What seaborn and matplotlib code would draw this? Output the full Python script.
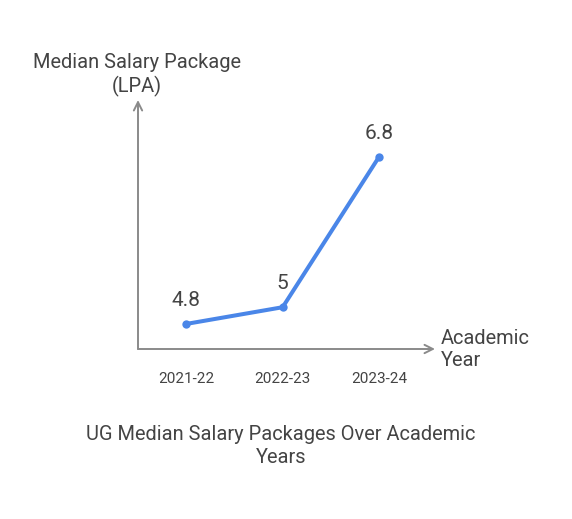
import matplotlib
matplotlib.use("Agg")
import matplotlib.pyplot as plt
import seaborn as sns
import pandas as pd

years = ["2021-22", "2022-23", "2023-24"]
salary = [4.8, 5, 6.8]
labels = ["4.8", "5", "6.8"]

sns.set_style("white")
plt.rcParams['font.family'] = ['Roboto', 'DejaVu Sans']

TXT = "#444444"
AX = "#8a8a8a"
LINE = "#4a86e8"

fig = plt.figure(figsize=(5.72, 5.19), dpi=100)
ax = fig.add_axes([138/572, 1-349/519, 297/572, 249/519])

df = pd.DataFrame({"x": range(len(years)), "y": salary})
sns.lineplot(data=df, x="x", y="y", ax=ax, color=LINE, linewidth=2.9,
             marker="o", markersize=6, markeredgewidth=0)

ax.set_xlim(-0.5, 2.58)
ax.set_ylim(4.5, 7.48)
for s in ax.spines.values():
    s.set_visible(False)
ax.set_yticks([])
ax.set_xticks(range(len(years)))
ax.set_xticklabels(years, fontsize=11, color=TXT)
ax.tick_params(axis="x", length=0, pad=16.5)
ax.set_xlabel("")
ax.set_ylabel("")

for i, (v, l) in enumerate(zip(salary, labels)):
    ax.annotate(l, (i, v), xytext=(0, 17), textcoords="offset points",
                ha="center", va="center", fontsize=15, color=TXT)

# axis arrows
ax.annotate("", xy=(1.0, 0), xytext=(0, 0), xycoords="axes fraction",
            arrowprops=dict(arrowstyle="->", color=AX, lw=1.4, shrinkA=0, shrinkB=0,
                            mutation_scale=15))
ax.annotate("", xy=(0, 1.0), xytext=(0, 0), xycoords="axes fraction",
            arrowprops=dict(arrowstyle="->", color=AX, lw=1.4, shrinkA=0, shrinkB=0,
                            mutation_scale=15))

fig.text(137/572, 1-75/519, "Median Salary Package\n(LPA)", ha="center", va="center",
         fontsize=14.4, color=TXT, linespacing=1.25)
fig.text(441/572, 1-350/519, "Academic\nYear", ha="left", va="center",
         fontsize=14.4, color=TXT, linespacing=1.2)
fig.text(281/572, 1-446/519, "UG Median Salary Packages Over Academic\nYears",
         ha="center", va="center", fontsize=14.4, color=TXT, linespacing=1.25)

fig.savefig("out.png", dpi=100, facecolor="white")
